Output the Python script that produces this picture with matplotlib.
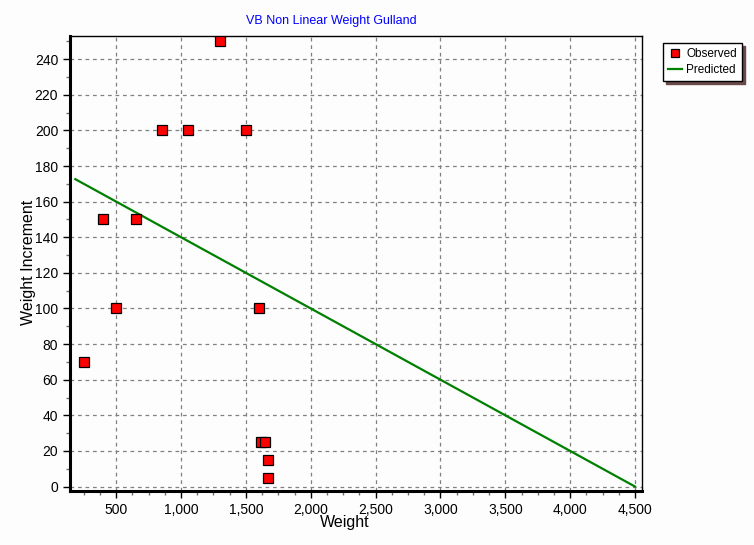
import matplotlib
matplotlib.use('Agg')
import matplotlib.pyplot as plt
from matplotlib.ticker import MultipleLocator, FuncFormatter

# observed data points
weight = [250, 400, 500, 650, 850, 1050, 1300, 1500, 1600, 1620, 1650, 1670, 1670]
increment = [70, 150, 100, 150, 200, 200, 250, 200, 100, 25, 25, 15, 5]

# predicted straight line (endpoints)
pred_weight = [185, 4500]
pred_increment = [172.6, 0]

plt.rcParams['font.family'] = ['Liberation Sans', 'DejaVu Sans']

fig = plt.figure(figsize=(7.54, 5.45), dpi=100, facecolor='#fdfdfd')
ax = fig.add_axes([70/754, 1 - 491/545, (642-70)/754, (491-36)/545])
ax.set_facecolor('#fdfdfd')

ax.plot(pred_weight, pred_increment, color='#008000', linewidth=1.6, label='Predicted', zorder=3)
ax.plot(weight, increment, linestyle='none', marker='s', markersize=7.5,
        markerfacecolor='#ff0000', markeredgecolor='black', markeredgewidth=0.9,
        label='Observed', zorder=4)

ax.set_xlim(144, 4554)
ax.set_ylim(-2.5, 253)
ax.set_xticks([t for t in range(500, 4501, 500)])
ax.xaxis.set_minor_locator(MultipleLocator(125))
ax.yaxis.set_major_locator(MultipleLocator(20))
ax.yaxis.set_minor_locator(MultipleLocator(10))
ax.xaxis.set_major_formatter(FuncFormatter(lambda v, p: f'{v:,.0f}'))

ax.grid(True, which='major', color='#808080', linestyle=(0, (3, 3)), linewidth=0.9)
ax.tick_params(which='major', direction='out', length=5, width=1, labelsize=10, colors='black')
ax.tick_params(which='minor', direction='out', length=3, width=1, color='#707070')

for side in ['left', 'bottom']:
    ax.spines[side].set_linewidth(2.2)
for side in ['top', 'right']:
    ax.spines[side].set_linewidth(1.0)

fig.text(331/754, 1 - 21/545, 'VB Non Linear Weight Gulland', color='#0000ff',
         fontsize=9, ha='center', va='center')
fig.text(345/754, 1 - 522/545, 'Weight', fontsize=11.5, ha='center', va='center')
fig.text(29/754, 1 - 262/545, 'Weight Increment', fontsize=11.5, ha='center', va='center',
         rotation=90)

handles, labels = ax.get_legend_handles_labels()
leg = fig.legend(handles[::-1], labels[::-1], loc='upper left',
                 bbox_to_anchor=(663/754, 1 - 43/545), fontsize=8.5,
                 frameon=True, fancybox=False, shadow={'color': '#6a4a4a', 'alpha': 1},
                 borderpad=0.45, labelspacing=0.3, handlelength=1.2, handletextpad=0.3,
                 borderaxespad=0, markerscale=0.8)
leg.get_frame().set_edgecolor('black')
leg.get_frame().set_linewidth(1.0)
leg.get_frame().set_facecolor('white')

fig.savefig('out.png', dpi=100, facecolor=fig.get_facecolor())
